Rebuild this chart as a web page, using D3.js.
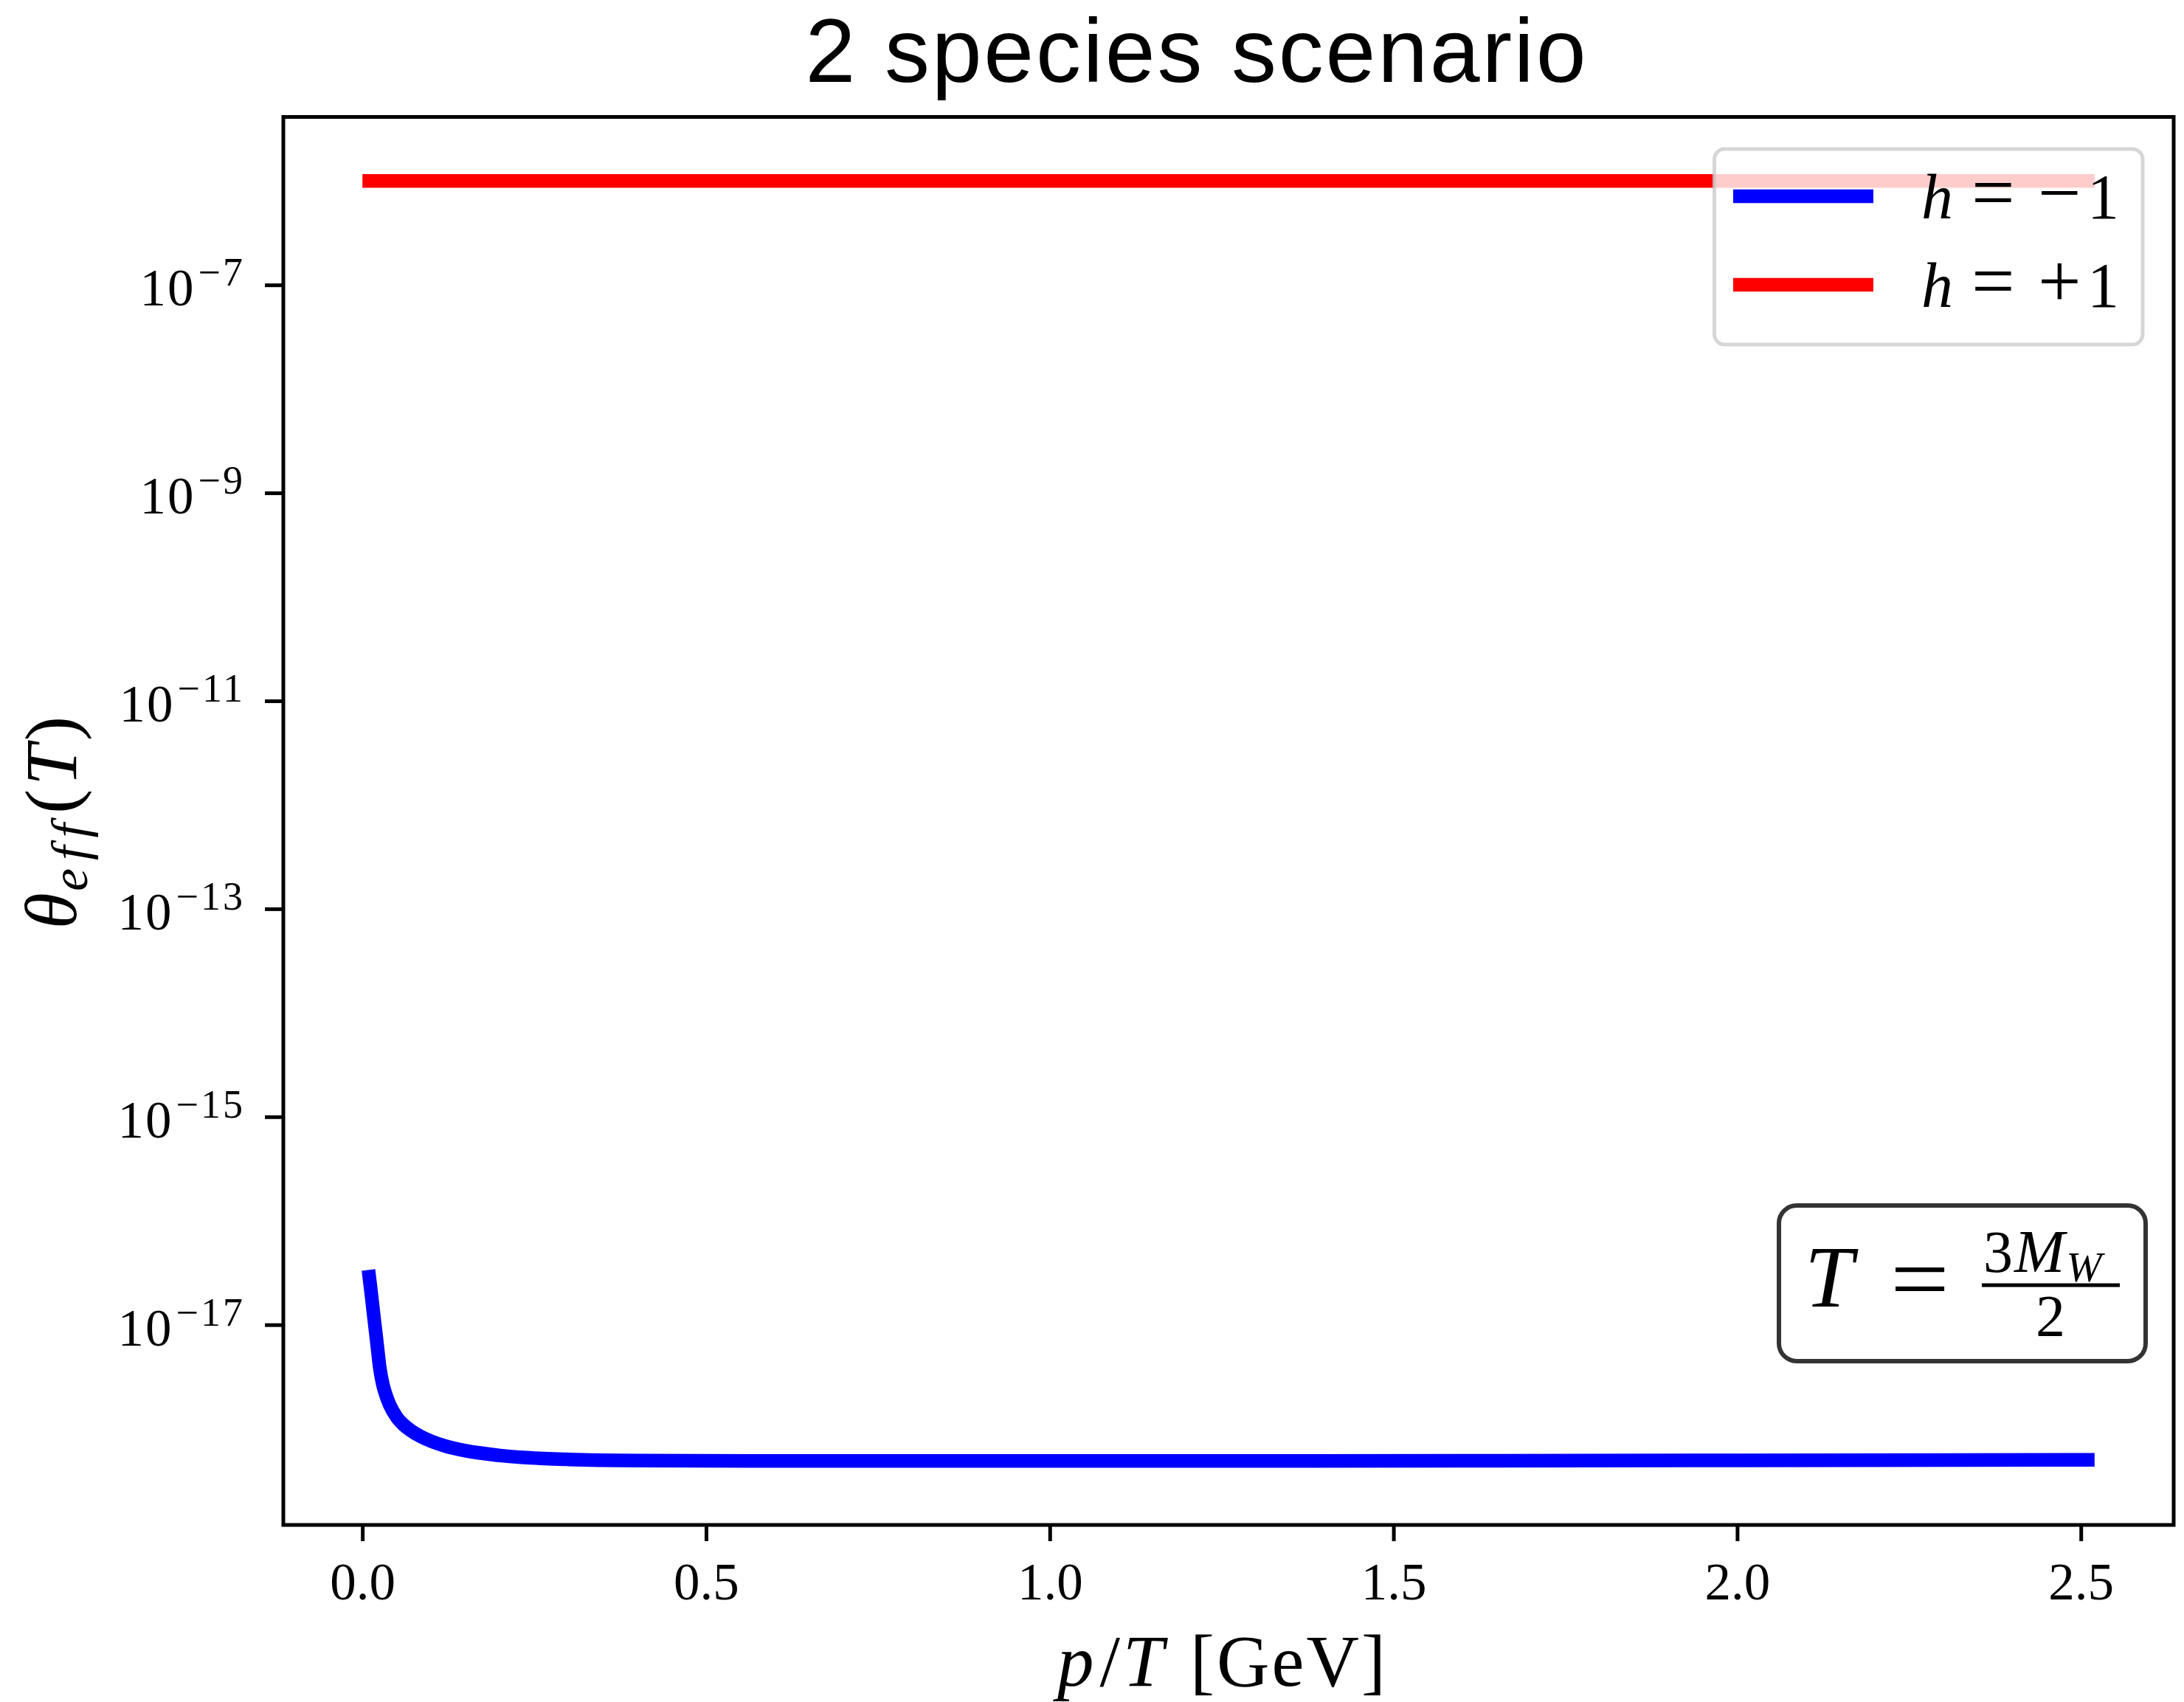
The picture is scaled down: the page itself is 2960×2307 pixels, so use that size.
<!DOCTYPE html>
<html>
<head>
<meta charset="utf-8">
<script src="https://cdn.jsdelivr.net/npm/d3@7"></script>
<style>
  html, body { margin: 0; padding: 0; background: #ffffff; }
  svg { display: block; }
</style>
</head>
<body>
<svg id="chart" width="2960" height="2307"></svg>
<script>
// ---------------- data ----------------
const pValues = [0.01, 0.0125, 0.015, 0.0175, 0.02, 0.0225, 0.025, 0.03, 0.035, 0.04, 0.05, 0.06, 0.07, 0.085, 0.1, 0.12, 0.15, 0.2, 0.3, 0.4, 0.6, 0.8, 1.2, 1.6, 2.0, 2.51];
const thetaMinus = [2.9e-17, 2.11e-17, 1.51e-17, 1.08e-17, 7.85e-18, 5.56e-18, 3.98e-18, 2.63e-18, 2.04e-18, 1.68e-18, 1.29e-18, 1.09e-18, 9.66e-19, 8.41e-19, 7.59e-19, 6.84e-19, 6.14e-19, 5.53e-19, 5.07e-19, 4.95e-19, 4.9e-19, 4.9e-19, 4.9e-19, 4.92e-19, 4.96e-19, 5.02e-19];
const thetaPlus = [1.0e-6, 1.0e-6, 1.0e-6, 1.0e-6, 1.0e-6, 1.0e-6, 1.0e-6, 1.0e-6, 1.0e-6, 1.0e-6, 1.0e-6, 1.0e-6, 1.0e-6, 1.0e-6, 1.0e-6, 1.0e-6, 1.0e-6, 1.0e-6, 1.0e-6, 1.0e-6, 1.0e-6, 1.0e-6, 1.0e-6, 1.0e-6, 1.0e-6, 1.0e-6];
const seriesNames = ["h = \u22121", "h = +1"];
const seriesColors = ["#0000ff", "#ff0000"];
const xTicks = [0.0, 0.5, 1.0, 1.5, 2.0, 2.5];
const xTickLabels = ["0.0", "0.5", "1.0", "1.5", "2.0", "2.5"];
const yTickExponents = [-17, -15, -13, -11, -9, -7];
const titleText = "2 species scenario";

// ---------------- layout ----------------
const W = 2960, H = 2307;
const plot = { left: 384, right: 2946, top: 158.5, bottom: 2067 };
const serif = "'Liberation Serif', 'DejaVu Serif', serif";
const sans = "'Liberation Sans', Arial, Helvetica, sans-serif";

const svg = d3.select("#chart");
svg.append("rect").attr("width", W).attr("height", H).attr("fill", "#fff");

// scales with matplotlib-like 5% margins
const xmin = d3.min(pValues), xmax = d3.max(pValues);
const xpad = (xmax - xmin) * 0.05;
const x = d3.scaleLinear().domain([xmin - xpad, xmax + xpad]).range([plot.left, plot.right]);

const allY = thetaMinus.concat(thetaPlus);
const lmin = Math.log10(d3.min(allY)), lmax = Math.log10(d3.max(allY));
const lpad = (lmax - lmin) * 0.05;
const y = d3.scaleLog().domain([Math.pow(10, lmin - lpad), Math.pow(10, lmax + lpad)]).range([plot.bottom, plot.top]);

// ---------------- lines ----------------
const line = d3.line()
  .x(d => x(d[0]))
  .y(d => y(d[1]))
  .curve(d3.curveMonotoneX);

const seriesData = [thetaMinus, thetaPlus];
seriesData.forEach((vals, i) => {
  svg.append("path")
    .datum(pValues.map((p, k) => [p, vals[k]]))
    .attr("d", line)
    .attr("fill", "none")
    .attr("stroke", seriesColors[i])
    .attr("stroke-width", 18.5)
    .attr("stroke-linecap", "square")
    .attr("stroke-linejoin", "round");
});

// ---------------- axes ----------------
const xAxis = d3.axisBottom(x).tickValues(xTicks).tickSize(22).tickFormat((d, i) => xTickLabels[i]);
const gx = svg.append("g").attr("transform", `translate(0,${plot.bottom})`).call(xAxis);
gx.select(".domain").remove();
gx.selectAll(".tick line").attr("stroke", "#000").attr("stroke-width", 5);
gx.selectAll(".tick text")
  .attr("y", 101).attr("dy", 0)
  .attr("font-family", serif).attr("font-size", 71).attr("fill", "#000");

const yTickVals = yTickExponents.map(e => Math.pow(10, e));
const yAxis = d3.axisLeft(y).tickValues(yTickVals).tickSize(25).tickFormat("");
const gy = svg.append("g").attr("transform", `translate(${plot.left},0)`).call(yAxis);
gy.select(".domain").remove();
gy.selectAll(".tick line").attr("stroke", "#000").attr("stroke-width", 5);
gy.selectAll(".tick text").remove();
gy.selectAll(".tick").each(function(d, i) {
  const t = d3.select(this).append("text")
    .attr("x", -52).attr("y", 27.5)
    .attr("text-anchor", "end")
    .attr("font-family", serif).attr("font-size", 71).attr("fill", "#000");
  t.append("tspan").attr("letter-spacing", 2).text("10");
  t.append("tspan").attr("font-size", 54).attr("dy", -27).attr("dx", 4).attr("letter-spacing", 3).text("\u2212" + Math.abs(yTickExponents[i]));
});

// spines
svg.append("rect")
  .attr("x", plot.left).attr("y", plot.top)
  .attr("width", plot.right - plot.left).attr("height", plot.bottom - plot.top)
  .attr("fill", "none").attr("stroke", "#000").attr("stroke-width", 5);

// ---------------- title & labels ----------------
svg.append("text")
  .attr("x", 1622).attr("y", 111)
  .attr("text-anchor", "middle")
  .attr("font-family", sans).attr("font-size", 122).attr("letter-spacing", 2.8).attr("fill", "#000")
  .text(titleText);

const xl = svg.append("text")
  .attr("x", 1657).attr("y", 2285)
  .attr("text-anchor", "middle")
  .attr("font-family", serif).attr("font-size", 99).attr("fill", "#000");
xl.append("tspan").attr("font-style", "italic").text("p");
xl.append("tspan").attr("dx", 8).text("/");
xl.append("tspan").attr("dx", 4).attr("font-style", "italic").text("T");
xl.append("tspan").attr("dx", 36).attr("letter-spacing", 3).text("[GeV]");

const yl = svg.append("text")
  .attr("transform", "translate(103,1115) rotate(-90)")
  .attr("text-anchor", "middle")
  .attr("font-family", serif).attr("font-size", 100).attr("fill", "#000");
yl.append("tspan").attr("font-style", "italic").text("\u03B8");
yl.append("tspan").attr("font-style", "italic").attr("font-size", 70).attr("dy", 15).attr("dx", 2).attr("letter-spacing", 11).text("eff");
yl.append("tspan").attr("dy", -15).attr("dx", 2).attr("letter-spacing", 5).text("(");
yl.append("tspan").attr("font-style", "italic").attr("letter-spacing", 5).text("T");
yl.append("tspan").text(")");

// ---------------- legend ----------------
const lg = svg.append("g");
lg.append("rect")
  .attr("x", 2323.5).attr("y", 202).attr("width", 580.5).attr("height", 265)
  .attr("rx", 14).attr("ry", 14)
  .attr("fill", "#fff").attr("fill-opacity", 0.8)
  .attr("stroke", "#cccccc").attr("stroke-opacity", 0.8).attr("stroke-width", 5);
const legendRows = [266, 386];
seriesNames.forEach((name, i) => {
  const yy = legendRows[i];
  lg.append("line")
    .attr("x1", 2349).attr("x2", 2539).attr("y1", yy).attr("y2", yy)
    .attr("stroke", seriesColors[i]).attr("stroke-width", 18.5);
  const t = lg.append("text")
    .attr("y", yy + 30)
    .attr("font-family", serif).attr("font-size", 86).attr("fill", "#000");
  const parts = name.split(" ");
  t.append("tspan").attr("x", 2604).attr("font-style", "italic").text(parts[0]);
  t.append("tspan").attr("x", 2672).attr("font-size", 104).text(parts[1]);
  t.append("tspan").attr("x", 2762).attr("font-size", 104).text(parts[2].charAt(0));
  t.append("tspan").attr("x", 2829).text(parts[2].slice(1));
});

// ---------------- annotation box ----------------
const an = svg.append("g");
an.append("rect")
  .attr("x", 2411).attr("y", 1634).attr("width", 497).attr("height", 211)
  .attr("rx", 24).attr("ry", 24)
  .attr("fill", "#fff").attr("stroke", "#333333").attr("stroke-width", 6);
an.append("text")
  .attr("x", 2446).attr("y", 1771)
  .attr("font-family", serif).attr("font-style", "italic").attr("font-size", 118).attr("fill", "#000")
  .text("T");
an.append("text")
  .attr("x", 2562).attr("y", 1776)
  .attr("textLength", 80).attr("lengthAdjust", "spacingAndGlyphs")
  .attr("font-family", serif).attr("font-size", 128).attr("fill", "#000")
  .text("=");
an.append("line")
  .attr("x1", 2686).attr("x2", 2873).attr("y1", 1742).attr("y2", 1742)
  .attr("stroke", "#000").attr("stroke-width", 5);
const num = an.append("text")
  .attr("x", 2688).attr("y", 1724)
  .attr("font-family", serif).attr("font-size", 80).attr("fill", "#000");
num.append("tspan").text("3");
num.append("tspan").attr("font-style", "italic").attr("dx", 2).attr("font-size", 82).text("M");
num.append("tspan").attr("font-style", "italic").attr("font-size", 58).attr("dy", 13).attr("dx", 2).text("W");
an.append("text")
  .attr("x", 2779).attr("y", 1811)
  .attr("text-anchor", "middle")
  .attr("font-family", serif).attr("font-size", 80).attr("fill", "#000")
  .text("2");
</script>
</body>
</html>
